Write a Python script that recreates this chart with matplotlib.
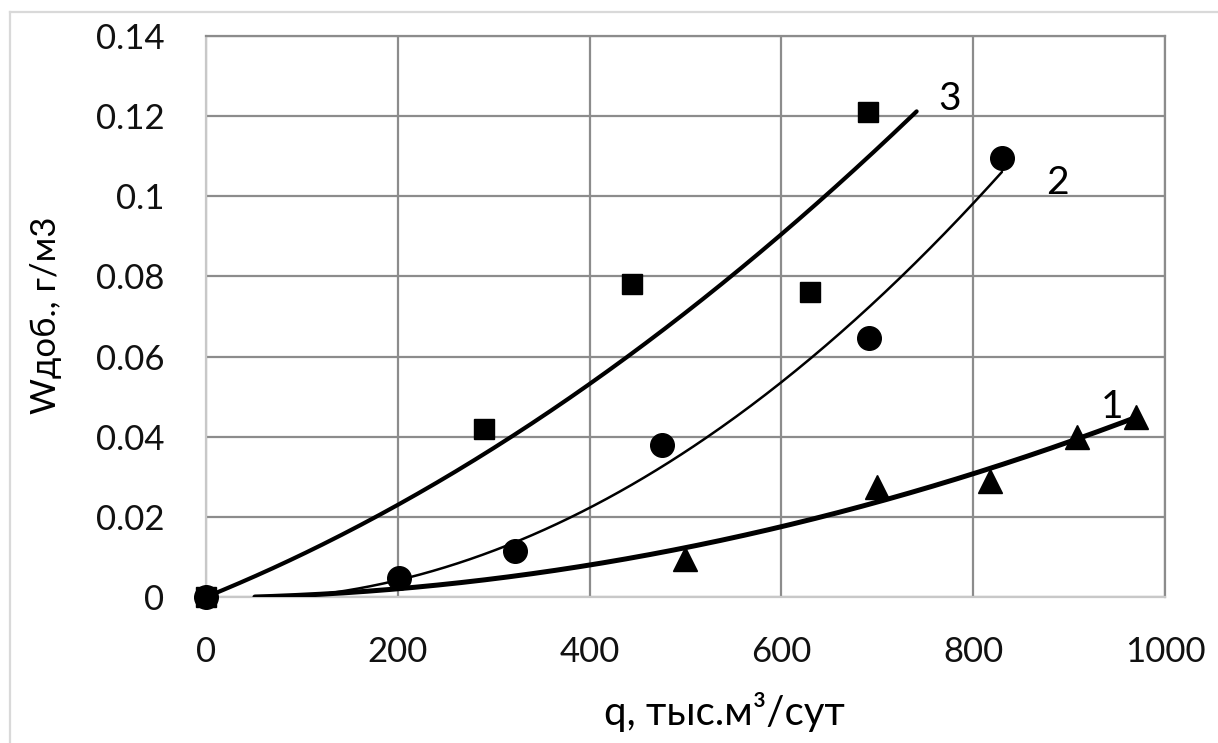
import numpy as np
import matplotlib
matplotlib.use("Agg")
import matplotlib.pyplot as plt
from matplotlib.lines import Line2D

plt.rcParams['font.family'] = ['Lato', 'Noto Sans', 'DejaVu Sans']

# Measured points
q3 = [0, 290, 444, 630, 690]
w3 = [0, 0.042, 0.078, 0.076, 0.121]

q2 = [0, 201, 322, 475, 691, 830]
w2 = [0, 0.0047, 0.0115, 0.038, 0.0647, 0.1096]

q1 = [499, 700, 817, 908, 970]
w1 = [0.0095, 0.0275, 0.029, 0.040, 0.045]

# Second-order polynomial trend curves (coefficients highest power first),
# drawn over [q_start, q_end]
trend3 = dict(coef=[8.98e-8, 9.70e-5, 0.0], q_start=0, q_end=741)
trend2 = dict(coef=[1.66e-7, -9.26e-6, -0.000595], q_start=55, q_end=830)
trend1 = dict(coef=[4.55e-8, 2.35e-6, -0.00024], q_start=51, q_end=970)

x_ticks = [0, 200, 400, 600, 800, 1000]
y_ticks = [0, 0.02, 0.04, 0.06, 0.08, 0.10, 0.12, 0.14]
y_tick_labels = ["0", "0.02", "0.04", "0.06", "0.08", "0.1", "0.12", "0.14"]

W, H = 1218, 743
fig = plt.figure(figsize=(W / 100, H / 100), dpi=100)

# light frame lines at top and left of the picture
fig.add_artist(Line2D([10 / W, 10 / W], [0, 1 - 12 / H], transform=fig.transFigure,
                      color="#d9d9d9", lw=1.6))
fig.add_artist(Line2D([10 / W, 1], [1 - 12 / H, 1 - 12 / H], transform=fig.transFigure,
                      color="#d9d9d9", lw=1.6))

ax = fig.add_axes([206 / W, 1 - 597 / H, (1165 - 206) / W, (597 - 36) / H])
ax.set_xlim(0, 1000)
ax.set_ylim(0, 0.14)

ax.set_xticks(x_ticks)
ax.set_xticklabels([str(t) for t in x_ticks])
ax.set_yticks(y_ticks)
ax.set_yticklabels(y_tick_labels)
ax.tick_params(axis='both', length=0, labelsize=25, colors="#111111")
ax.tick_params(axis='x', pad=28)
ax.tick_params(axis='y', pad=30)

ax.grid(True, color="#8c8c8c", lw=1.6)
ax.set_axisbelow(True)
for s in ax.spines.values():
    s.set_color("#8c8c8c")
    s.set_linewidth(1.6)
ax.spines['left'].set_color("#c8c8c8")
ax.spines['bottom'].set_color("#c8c8c8")


def trend(p, lw):
    qq = np.linspace(p['q_start'], p['q_end'], 300)
    ww = np.maximum(np.polyval(p['coef'], qq), 0.0)
    ax.plot(qq, ww, color="black", lw=lw, solid_capstyle='round', zorder=3)


trend(trend3, 3.0)
trend(trend2, 1.8)
trend(trend1, 3.6)

ax.plot(q3, w3, linestyle='none', marker='s', ms=15, color='black', zorder=4, clip_on=False)
ax.plot(q2, w2, linestyle='none', marker='o', ms=17, color='black', zorder=4, clip_on=False)
ax.plot(q1, w1, linestyle='none', marker='^', ms=17, color='black', zorder=4, clip_on=False)

ax.text(764, 0.1215, "3", fontsize=28, ha='left', va='baseline')
ax.text(876, 0.1005, "2", fontsize=28, ha='left', va='baseline')
ax.text(933, 0.0447, "1", fontsize=28, ha='left', va='baseline')

fig.text(724 / W, 1 - 712 / H, "q, тыс.м³/сут", fontsize=29, ha='center', va='center')
fig.text(46 / W, 1 - 315 / H, "Wдоб., г/м3", fontsize=25, ha='center', va='center',
         rotation=90)

fig.savefig("out.png", dpi=100)
